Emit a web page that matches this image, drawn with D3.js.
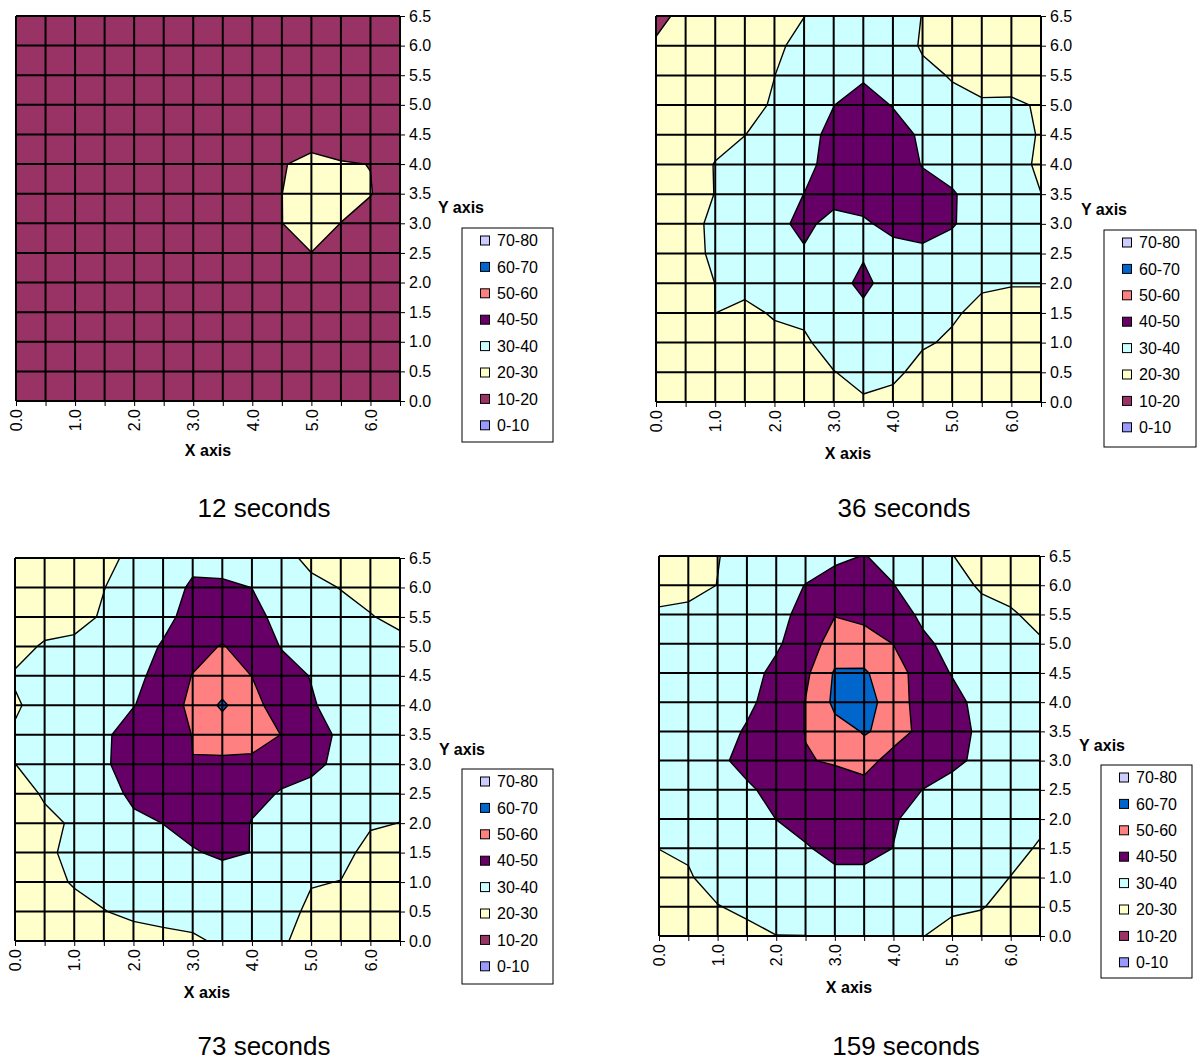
<!DOCTYPE html>
<html>
<head>
<meta charset="utf-8">
<script src="https://cdn.jsdelivr.net/npm/d3@7"></script>
<style>
  body { margin: 0; background: #fff; }
  svg { display: block; }
</style>
</head>
<body>
<div id="chart"></div>
<script>
// grid positions along both axes, in axis units
var gridSteps = [0.0, 0.5, 1.0, 1.5, 2.0, 2.5, 3.0, 3.5, 4.0, 4.5, 5.0, 5.5, 6.0, 6.5];
var xTickLabels = ["0.0", "1.0", "2.0", "3.0", "4.0", "5.0", "6.0"];
var bandThresholds = [0, 10, 20, 30, 40, 50, 60, 70];
var bandLabels = ["0-10", "10-20", "20-30", "30-40", "40-50", "50-60", "60-70", "70-80"];
var bandColors = ["#9999FF", "#993366", "#FFFFCC", "#CCFFFF", "#660066", "#FF8080", "#0066CC", "#CCCCFF"];
var panelTitles = ["12 seconds", "36 seconds", "73 seconds", "159 seconds"];

// each grid: rows from y = 6.5 (top) down to y = 0.0, columns x = 0.0 .. 6.5
var grid12s = [
  [15, 15, 15, 15, 15, 15, 15, 15, 15, 15, 15, 15, 15, 15],
  [15, 15, 15, 15, 15, 15, 15, 15, 15, 15, 15, 15, 15, 15],
  [15, 15, 15, 15, 15, 15, 15, 15, 15, 15, 15, 15, 15, 15],
  [15, 15, 15, 15, 15, 15, 15, 15, 15, 15, 15, 15, 15, 15],
  [15, 15, 15, 15, 15, 15, 15, 15, 15, 16, 16, 16, 15, 15],
  [15, 15, 15, 15, 15, 15, 15, 15, 16, 19.4, 22.5, 20.5, 19.9, 16],
  [15, 15, 15, 15, 15, 15, 15, 15, 16, 19.9, 26, 23, 20.3, 16],
  [15, 15, 15, 15, 15, 15, 15, 15, 16, 19.9, 24, 19.9, 17, 15],
  [15, 15, 15, 15, 15, 15, 15, 15, 15, 16, 19.9, 16, 15, 15],
  [15, 15, 15, 15, 15, 15, 15, 15, 15, 15, 15, 15, 15, 15],
  [15, 15, 15, 15, 15, 15, 15, 15, 15, 15, 15, 15, 15, 15],
  [15, 15, 15, 15, 15, 15, 15, 15, 15, 15, 15, 15, 15, 15],
  [15, 15, 15, 15, 15, 15, 15, 15, 15, 15, 15, 15, 15, 15],
  [15, 15, 15, 15, 15, 15, 15, 15, 15, 15, 15, 15, 15, 15]
];

var grid36s = [
  [18, 22, 24, 25, 27, 29.8, 34, 35, 34, 29.8, 27, 26, 27, 27],
  [20.9, 23, 24, 25, 27.5, 34, 36, 37, 35, 29.05, 27, 26, 26, 27],
  [22, 23, 24, 26, 29.9, 35, 36, 38, 36, 32, 29.44, 27, 26, 27],
  [22, 23, 25, 27, 31, 35, 39.8, 46, 39.3, 35, 32, 31, 31.5, 29.08],
  [23, 24, 27, 29.9, 33, 36, 43.1, 48, 46, 37.7, 34, 33, 32, 29.56],
  [23, 25, 30.4, 33, 35, 37, 44, 48, 46, 39.5, 36, 34, 32, 29.06],
  [23, 26, 30.2, 33, 35, 40.1, 43, 46, 47, 44, 41, 35, 33, 30.05],
  [23, 26, 32.5, 34, 37.8, 42, 37.2, 38, 44, 44, 41, 34, 33, 32],
  [23, 26, 32, 34, 36, 39.1, 37, 38.8, 35, 37.9, 34.8, 33, 32, 32],
  [23, 25, 30.1, 33, 34, 35, 35.1, 43, 34.2, 33, 32, 31, 30.4, 30.4],
  [22, 24, 30.05, 27.6, 31, 32, 34, 37, 33, 31.5, 31, 28, 27.1, 27.1],
  [21, 22, 24, 25, 27, 28.55, 34, 35, 33, 31, 28.8, 27, 26, 26],
  [20.5, 21, 22, 23, 25, 26, 29.7, 33, 32, 27, 26, 25, 25, 25],
  [20.5, 21, 22, 22, 23, 24, 26, 28.9, 27.2, 25, 24, 24, 24, 24]
];

var grid73s = [
  [24, 25, 26, 27, 32.6, 34, 37.3, 35.3, 35, 32, 28.5, 27, 26, 25],
  [25, 26, 27, 29.8, 34, 35.3, 41.5, 42, 39.9, 35, 31.5, 29.8, 27, 26],
  [25.5, 26, 27, 31, 35, 36.9, 44, 45, 44, 36, 34, 32, 30.5, 27.5],
  [27, 31, 32, 33, 35, 41, 47, 50.5, 46, 39.5, 36, 34, 33, 32.9],
  [30.9, 32, 33, 35, 37, 44, 50.3, 54, 49.9, 44, 39.6, 36, 34, 33],
  [29, 33.2, 34, 36, 39.7, 44, 52.7, 61.6, 53, 45.5, 41, 36, 34, 33],
  [31, 33, 35, 38.5, 44, 46, 50.2, 54, 55, 49.8, 45, 38, 35, 33],
  [29.95, 32, 34, 38.5, 45, 47, 49.9, 48.3, 47.2, 44, 43, 37, 34, 32],
  [26, 31, 33, 36, 42, 45, 46, 46, 43, 39.2, 36, 34, 32, 31],
  [25, 28, 31, 34, 38, 40.1, 44, 46, 39.5, 36, 34, 32, 30.5, 29.95],
  [25, 28.5, 32, 34, 35, 37, 39, 42, 39.8, 35, 33, 31.5, 28.5, 27],
  [24, 27, 30.8, 33, 34, 34, 35, 34.3, 34, 33, 30.3, 29.9, 27, 26],
  [23, 25, 27, 29.7, 32, 32.9, 32.5, 33, 33, 32, 28.9, 27, 26, 25],
  [22, 23, 24, 25, 26, 27.5, 29, 31, 32, 31, 27, 25, 24, 23]
];

var grid159s = [
  [25, 27, 29.8, 32, 33, 34, 38, 40.3, 37.5, 33, 30.2, 27, 26, 25],
  [27, 28, 30.1, 33, 35, 40.3, 44, 45, 40.2, 35, 33, 29, 27, 26],
  [31.05, 31.5, 33, 34, 37, 43, 49.6, 47.3, 45, 38, 35, 32.5, 31, 27.5],
  [32, 33, 34, 35, 38.8, 44.7, 54.5, 54.75, 49.8, 42, 37, 35, 33, 31],
  [33, 34, 35, 37, 42, 48, 61, 61, 55, 45, 39.5, 36, 34, 33],
  [33, 34, 36, 38, 44, 50.3, 62, 64, 55.3, 45.5, 43, 37, 35, 34],
  [33, 34, 36, 41, 44, 50.3, 57, 60.5, 58.2, 45, 44, 38, 35, 34],
  [33, 35, 38, 43, 45, 49.5, 50.8, 57, 43, 44, 42.5, 37.5, 35, 34],
  [33, 34, 34, 38.5, 43, 46, 46, 43, 44, 39.9, 36, 35, 34, 33],
  [32, 33, 33, 35, 40.1, 46, 47, 47, 41, 36, 35, 34, 33, 31],
  [30.1, 31, 33, 34, 35, 38.5, 45, 45, 39.8, 35, 34, 33, 31.5, 29.5],
  [27, 29.3, 33, 33, 34, 35, 36, 36, 35, 34, 33, 32, 29.9, 27],
  [25, 27, 29.7, 31.5, 33, 33, 34, 34, 33, 32, 31.5, 30.5, 27, 26],
  [23, 25, 26, 28, 29.9, 29.95, 31, 32, 31, 30.2, 27, 26, 25, 24]
];

var fontFamily = "Arial, 'Liberation Sans', Helvetica, sans-serif";

// where each of the four charts sits on the page
var panels = [
  { grid: grid12s, title: panelTitles[0], left: 16, right: 400, top: 16, bottom: 401,
    legend: [462, 228, 91, 214], yTitle: [438, 213], xTitle: [208, 456], titlePos: [264, 517] },
  { grid: grid36s, title: panelTitles[1], left: 656, right: 1041, top: 16, bottom: 402,
    legend: [1104, 230, 92, 217], yTitle: [1081, 215], xTitle: [848, 459], titlePos: [904, 517] },
  { grid: grid73s, title: panelTitles[2], left: 15, right: 400, top: 558, bottom: 941,
    legend: [462, 769, 91, 215], yTitle: [439, 755], xTitle: [207, 998], titlePos: [264, 1055] },
  { grid: grid159s, title: panelTitles[3], left: 659, right: 1040, top: 556, bottom: 936,
    legend: [1101, 765, 91, 213], yTitle: [1079, 751], xTitle: [849, 993], titlePos: [906, 1055] }
];

var svg = d3.select("#chart").append("svg")
  .attr("width", 1198)
  .attr("height", 1061)
  .attr("font-family", fontFamily);

var color = d3.scaleOrdinal().domain(bandThresholds).range(bandColors);

panels.forEach(function(p, i) { drawPanel(p, i); });

function drawPanel(p, i) {
  var n = gridSteps.length,
      step = gridSteps[1] - gridSteps[0],
      lo = gridSteps[0],
      hi = gridSteps[n - 1];

  var x = d3.scaleLinear().domain([lo, hi]).range([p.left, p.right]);
  var y = d3.scaleLinear().domain([lo, hi]).range([p.bottom, p.top]);

  // filled bands: every threshold gives the area >= that value
  var contours = d3.contours()
    .size([n, n])
    .thresholds(bandThresholds)(p.grid.flat());

  // contour space puts sample k at k + 0.5
  var toScreen = d3.geoTransform({
    point: function(cx, cy) {
      this.stream.point(x(lo + (cx - 0.5) * step), y(hi - (cy - 0.5) * step));
    }
  });
  var path = d3.geoPath(toScreen);

  var g = svg.append("g");

  svg.append("clipPath").attr("id", "plot-clip-" + i)
    .append("rect")
    .attr("x", p.left).attr("y", p.top)
    .attr("width", p.right - p.left).attr("height", p.bottom - p.top);

  g.append("g")
    .attr("clip-path", "url(#plot-clip-" + i + ")")
    .selectAll("path")
    .data(contours)
    .enter().append("path")
    .attr("d", path)
    .attr("fill", function(d) { return color(d.value); })
    .attr("stroke", "#000")
    .attr("stroke-width", 1.4)
    .attr("stroke-linejoin", "round");

  // black grid drawn over the bands
  var grid = g.append("g").attr("stroke", "#000").attr("stroke-width", 2);
  grid.selectAll(".vline").data(gridSteps).enter().append("line")
    .attr("x1", function(d) { return x(d); }).attr("x2", function(d) { return x(d); })
    .attr("y1", p.top).attr("y2", p.bottom);
  grid.selectAll(".hline").data(gridSteps).enter().append("line")
    .attr("y1", function(d) { return y(d); }).attr("y2", function(d) { return y(d); })
    .attr("x1", p.left).attr("x2", p.right);

  // y axis on the right
  g.append("g")
    .attr("transform", "translate(" + p.right + ",0)")
    .call(d3.axisRight(y).tickValues(gridSteps).tickFormat(d3.format(".1f")).tickSize(5).tickPadding(4))
    .attr("font-size", 16)
    .attr("font-family", fontFamily)
    .call(function(a) { a.select(".domain").remove(); });

  // x axis, labels only on whole numbers, turned upright
  g.append("g")
    .attr("transform", "translate(0," + p.bottom + ")")
    .call(d3.axisBottom(x).tickValues(gridSteps).tickSize(5)
      .tickFormat(function(d) { return xTickLabels.indexOf(d.toFixed(1)) >= 0 ? d.toFixed(1) : ""; }))
    .attr("font-size", 16)
    .attr("font-family", fontFamily)
    .call(function(a) {
      a.select(".domain").remove();
      a.selectAll("text")
        .attr("transform", "rotate(-90)")
        .attr("text-anchor", "end")
        .attr("x", -8)
        .attr("y", 0)
        .attr("dy", "0.36em");
    });

  g.append("text")
    .attr("x", p.yTitle[0]).attr("y", p.yTitle[1])
    .attr("font-size", 16).attr("font-weight", "bold")
    .text("Y axis");

  g.append("text")
    .attr("x", p.xTitle[0]).attr("y", p.xTitle[1])
    .attr("text-anchor", "middle")
    .attr("font-size", 16).attr("font-weight", "bold")
    .text("X axis");

  g.append("text")
    .attr("x", p.titlePos[0]).attr("y", p.titlePos[1])
    .attr("text-anchor", "middle")
    .attr("font-size", 26)
    .text(p.title);

  // legend, highest band on top
  var lg = g.append("g")
    .attr("transform", "translate(" + p.legend[0] + "," + p.legend[1] + ")");
  lg.append("rect")
    .attr("width", p.legend[2]).attr("height", p.legend[3])
    .attr("fill", "#fff").attr("stroke", "#000").attr("stroke-width", 1);

  var items = lg.selectAll(".item")
    .data(bandThresholds.map(function(t, k) { return { t: t, label: bandLabels[k] }; }).reverse())
    .enter().append("g")
    .attr("transform", function(d, k) { return "translate(18," + (12.5 + k * 26.4) + ")"; });
  items.append("rect")
    .attr("x", 0.5).attr("y", -4.5)
    .attr("width", 9).attr("height", 9)
    .attr("fill", function(d) { return color(d.t); })
    .attr("stroke", "#000").attr("stroke-width", 1);
  items.append("text")
    .attr("x", 17).attr("dy", "0.36em")
    .attr("font-size", 16)
    .text(function(d) { return d.label; });
}
</script>
</body>
</html>
